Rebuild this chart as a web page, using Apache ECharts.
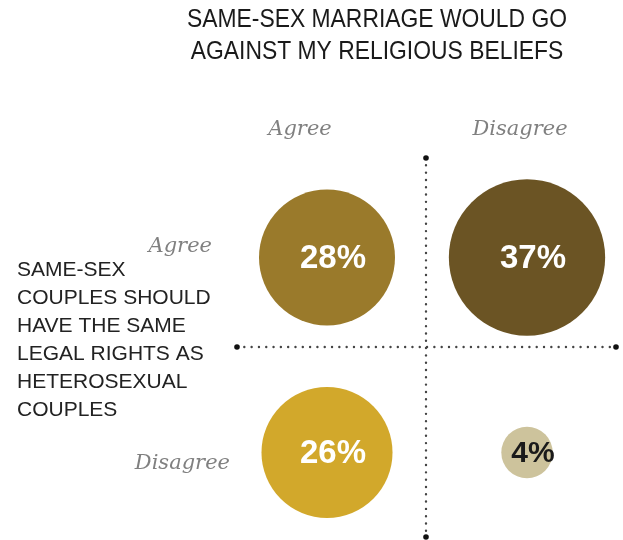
<!DOCTYPE html>
<html>
<head>
<meta charset="utf-8">
<script src="https://cdn.jsdelivr.net/npm/echarts@6/dist/echarts.min.js"></script>
<style>html,body{margin:0;padding:0;background:#fff}#c{width:623px;height:540px}</style>
</head>
<body>
<div id="c"></div>
<script>
// Data
const titleLines = ['SAME-SEX MARRIAGE WOULD GO', 'AGAINST MY RELIGIOUS BELIEFS'];
const rowTitleLines = ['SAME-SEX', 'COUPLES SHOULD', 'HAVE THE SAME', 'LEGAL RIGHTS AS', 'HETEROSEXUAL', 'COUPLES'];
const colCategories = ['Agree', 'Disagree'];   // religious beliefs
const rowCategories = ['Agree', 'Disagree'];   // same legal rights
const cellCol = ['Agree', 'Disagree', 'Agree', 'Disagree'];
const cellRow = ['Agree', 'Agree', 'Disagree', 'Disagree'];
const cellValue = [28, 37, 26, 4];
const cellColor = ['#9a7a2b', '#6b5424', '#d2a82b', '#cdc39c'];
const cellLabelColor = ['#ffffff', '#ffffff', '#ffffff', '#1a1a1a'];

const chart = echarts.init(document.getElementById('c'), null, {renderer: 'canvas'});

const seriesData = cellValue.map((v, i) => ({
  value: [cellCol[i], cellRow[i], v],
  itemStyle: {color: cellColor[i], opacity: 1},
  label: {color: cellLabelColor[i], fontSize: i === 3 ? 30 : 33}
}));

const dotColor = '#444';
const graphic = [];
// title
titleLines.forEach((t, i) => {
  graphic.push({
    type: 'text', x: 377, y: 20 + i * 32, originX: 0, originY: 0, scaleX: 0.88,
    style: {text: t, fill: '#1a1a1a', font: '26px "Liberation Sans", Arial, sans-serif', textAlign: 'center', textVerticalAlign: 'middle'}
  });
});
// row title block
rowTitleLines.forEach((t, i) => {
  graphic.push({
    type: 'text', x: 17, y: 270 + i * 28,
    style: {text: t, fill: '#222', font: '21px "Liberation Sans", Arial, sans-serif', textAlign: 'left', textVerticalAlign: 'middle'}
  });
});
// column and row headers
const hdrFont = 'italic 21px "DejaVu Serif", serif';
graphic.push({type: 'text', x: 300, y: 130, style: {text: colCategories[0], fill: '#808080', font: hdrFont, textAlign: 'center', textVerticalAlign: 'middle'}});
graphic.push({type: 'text', x: 520, y: 130, style: {text: colCategories[1], fill: '#808080', font: hdrFont, textAlign: 'center', textVerticalAlign: 'middle'}});
graphic.push({type: 'text', x: 212, y: 247, style: {text: rowCategories[0], fill: '#808080', font: hdrFont, textAlign: 'right', textVerticalAlign: 'middle'}});
graphic.push({type: 'text', x: 230, y: 464, style: {text: rowCategories[1], fill: '#808080', font: hdrFont, textAlign: 'right', textVerticalAlign: 'middle'}});
// dotted dividers
graphic.push({type: 'line', shape: {x1: 237, y1: 347, x2: 616, y2: 347}, style: {stroke: dotColor, lineWidth: 2.4, lineDash: [0.01, 7.3], lineCap: 'round'}, z: 1});
graphic.push({type: 'line', shape: {x1: 426, y1: 158, x2: 426, y2: 537}, style: {stroke: dotColor, lineWidth: 2.4, lineDash: [0.01, 7.3], lineCap: 'round'}, z: 1});
[[237, 347], [616, 347], [426, 158], [426, 537]].forEach(p => {
  graphic.push({type: 'circle', shape: {cx: p[0], cy: p[1], r: 2.8}, style: {fill: '#111'}, z: 2});
});

chart.setOption({
  animation: false,
  backgroundColor: '#fff',
  grid: {left: 227, width: 400, top: 160, height: 390, outerBoundsMode: 'none', containLabel: false},
  xAxis: {type: 'category', data: colCategories, show: false},
  yAxis: {type: 'category', data: rowCategories, inverse: true, show: false},
  graphic: graphic,
  series: [{
    type: 'scatter',
    data: seriesData,
    symbol: 'circle',
    symbolSize: d => 25.7 * Math.sqrt(d[2]),
    z: 5,
    label: {
      show: true, position: 'inside', offset: [6, 1],
      formatter: p => p.value[2] + '%',
      fontFamily: '"Liberation Sans", Arial, sans-serif', fontWeight: 'bold'
    },
    emphasis: {disabled: true}
  }]
});
</script>
</body>
</html>
